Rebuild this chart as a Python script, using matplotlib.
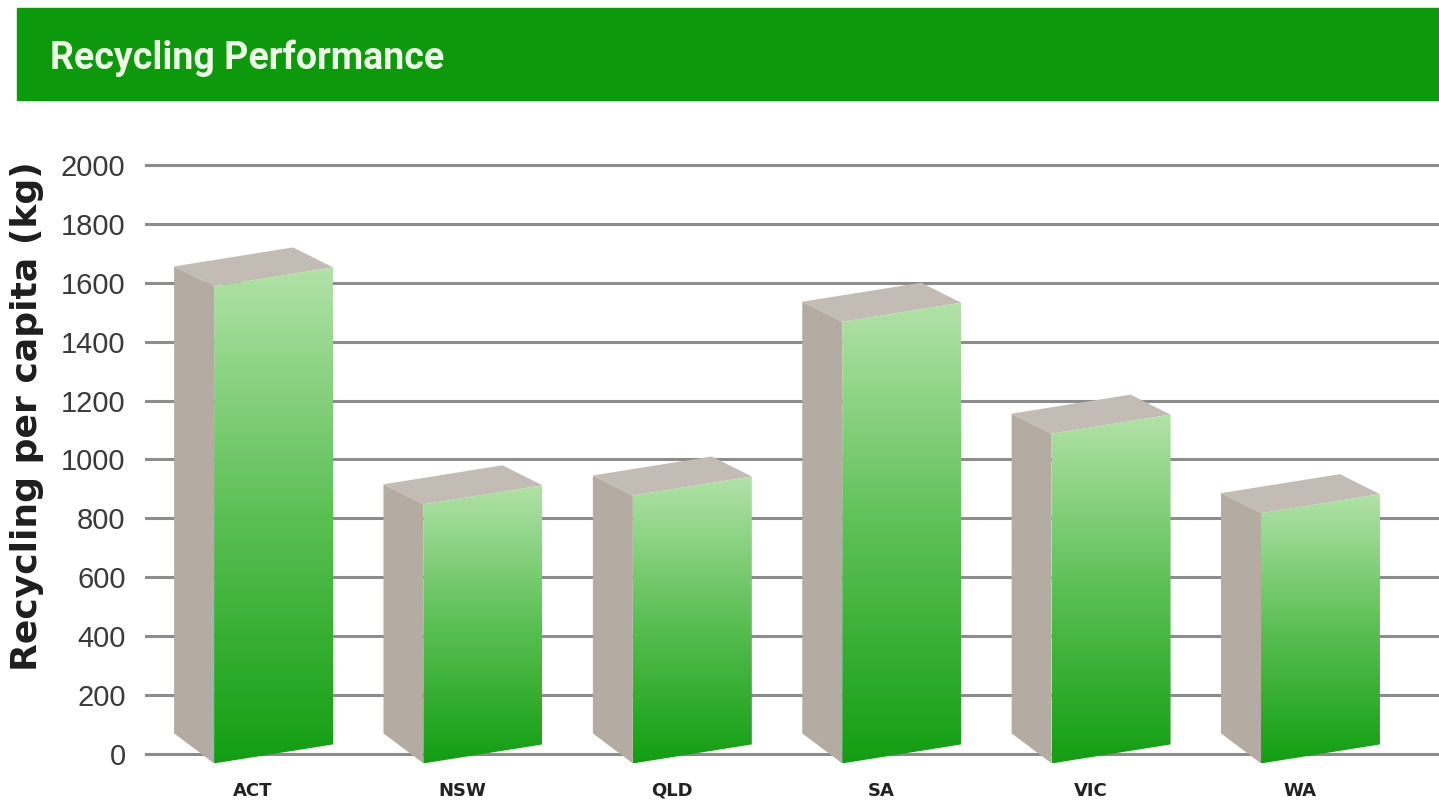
import numpy as np
import matplotlib
matplotlib.use("Agg")
import matplotlib.pyplot as plt
from matplotlib.patches import Polygon, Rectangle
from matplotlib.colors import LinearSegmentedColormap

# data
states = ["ACT", "NSW", "QLD", "SA", "VIC", "WA"]
recycling_kg = [1620, 880, 910, 1500, 1120, 850]
y_ticks = [0, 200, 400, 600, 800, 1000, 1200, 1400, 1600, 1800, 2000]

W, H = 1439, 806
fig = plt.figure(figsize=(W / 100, H / 100), dpi=100)

# green header banner
fig.patches.append(Rectangle((17 / W, 1 - 100 / H), 1 - 17 / W, 92 / H,
                             transform=fig.transFigure, color="#0c990c", zorder=0))
fig.text(50 / W, 1 - 58 / H, "Recycling Performance", color="#eef9e8",
         fontsize=27, fontweight="bold",
         family=["Roboto", "DejaVu Sans"], va="center", ha="left")

ax = fig.add_axes([145 / W, 1 - 776 / H, 1 - 145 / W, (776 - 150) / H])

for y in y_ticks:
    ax.axhline(y, color="#8c8c8c", lw=2.2, zorder=0)

# pseudo-3D bars
px_x = 1 / 209.4       # data units per pixel, x
px_y = 1 / 0.2945      # data units per pixel, y
t = 9.5 * px_y         # tilt of front face
dx = -40 * px_x
dy_top = 20 * px_y
dy_bot = 30 * px_y
green = LinearSegmentedColormap.from_list("g", ["#129e12", "#5cbf55", "#b2e2a8"])
grad = np.linspace(0, 1, 256).reshape(-1, 1)

for i, v in enumerate(recycling_kg):
    x0, x1 = i - 0.186, i + 0.382
    side = Polygon([(x0, -t), (x0, v - t), (x0 + dx, v - t + dy_top), (x0 + dx, -t + dy_bot)],
                   closed=True, facecolor="#b4aca2", edgecolor="none", zorder=3)
    top = Polygon([(x0, v - t), (x1, v + t), (x1 + dx, v + t + dy_top), (x0 + dx, v - t + dy_top)],
                  closed=True, facecolor="#c3bcb4", edgecolor="none", zorder=3)
    front = Polygon([(x0, -t), (x1, t), (x1, v + t), (x0, v - t)],
                    closed=True, facecolor="none", edgecolor="none", zorder=4)
    ax.add_patch(side)
    ax.add_patch(top)
    ax.add_patch(front)
    im = ax.imshow(grad, cmap=green, origin="lower", aspect="auto",
                   extent=[x0, x1, -t, v + t], zorder=4, interpolation="bilinear")
    im.set_clip_path(front)

ax.set_xlim(-0.516, 5.664)
ax.set_ylim(-75, 2051)
ax.set_yticks(y_ticks)
ax.set_yticklabels([str(y) for y in y_ticks], fontsize=21, color="#3a3a3a",
                   family="Liberation Sans")
ax.set_xticks(range(len(states)))
ax.set_xticklabels(states, fontsize=13, fontweight="bold", color="#222222")
ax.tick_params(axis="both", length=0)
ax.tick_params(axis="y", pad=14)
ax.tick_params(axis="x", pad=4)
for s in ax.spines.values():
    s.set_visible(False)

fig.text(27 / W, 1 - 416 / H, "Recycling per capita (kg)", rotation=90,
         fontsize=26, fontweight="bold", color="#1e1e1e", va="center", ha="center")

fig.savefig("out.png", dpi=100)
